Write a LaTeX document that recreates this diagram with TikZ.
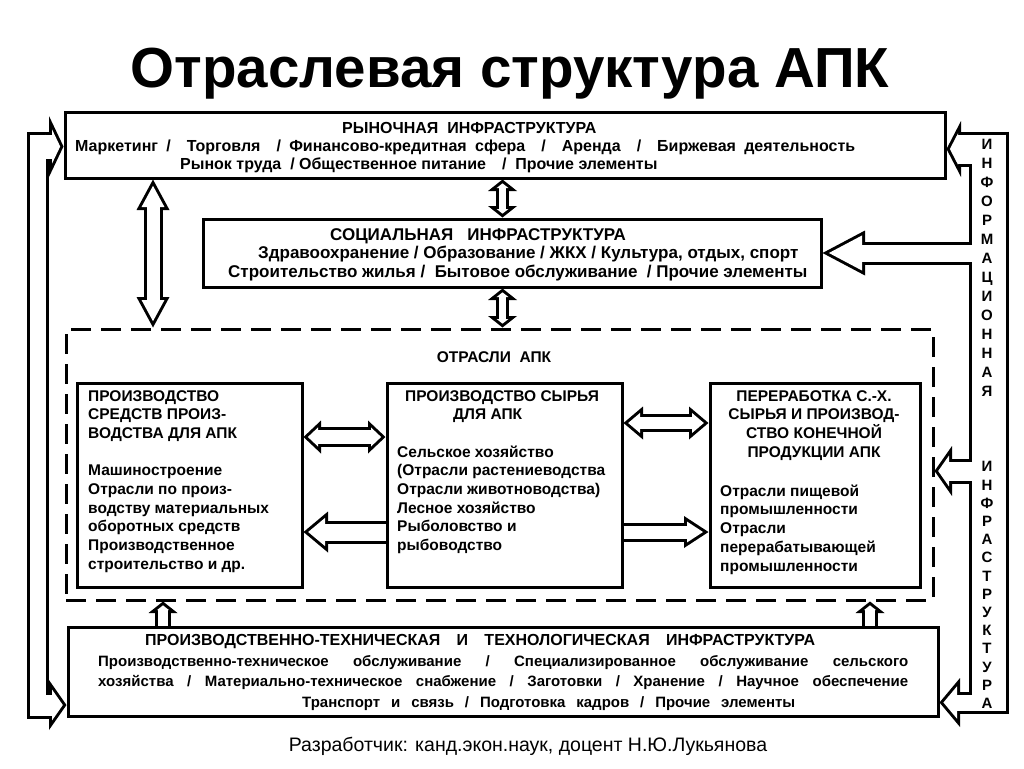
\documentclass[tikz,border=0pt]{standalone}
\usepackage{fontspec}
\setmainfont{Liberation Sans}
\usetikzlibrary{arrows.meta, positioning}
\pgfdeclarelayer{under}
\pgfsetlayers{under,main}

\tikzset{
  box/.style={draw, line width=3pt, inner sep=0pt},
  apkbox/.style={draw, line width=3pt, dash pattern=on 20pt off 10pt, inner sep=0pt},
  txt/.style={inner sep=0pt, align=left, anchor=north west, font=\bfseries\fontsize{15.5}{18.7}\selectfont},
  vtxt/.style={inner sep=0pt, align=center, font=\bfseries\fontsize{15}{19}\selectfont},
  % outline of a hollow arrow: shaft, head length, head width
  hout/.code n args={3}{%
    \pgfmathsetmacro\hw{#1+3}%
    \pgfmathsetmacro\hl{#2+1.5}%
    \pgfmathsetmacro\hh{#3+3}%
    \pgfkeysalso{/tikz/line width=\hw pt, /tikz/>={Triangle[length=\hl pt, width=\hh pt, line width=0pt]}}},
  hin/.code n args={3}{%
    \pgfmathsetmacro\hw{#1-3}%
    \pgfmathsetmacro\hl{#2+1.5}%
    \pgfmathsetmacro\hh{#3+3}%
    \pgfmathsetmacro\hs{3*sqrt((\hh/2)^2+\hl^2)/(\hh/2)}%
    \pgfmathsetmacro\il{\hl-3-\hs}%
    \pgfmathsetmacro\ih{\hh*\il/\hl}%
    \pgfkeysalso{/tikz/color=white, /tikz/line width=\hw pt, /tikz/shorten >=\hs pt,
      /tikz/>={Triangle[length=\il pt, width=\ih pt, line width=0pt]}}}
}

\newcommand{\hone}[4]{%
  \begin{pgfonlayer}{under}\draw[hout={#1}{#2}{#3}, ->] #4;\end{pgfonlayer}
  \draw[hin={#1}{#2}{#3}, ->] #4;}
\newcommand{\htwo}[4]{%
  \begin{pgfonlayer}{under}\draw[hout={#1}{#2}{#3}, <->] #4;\end{pgfonlayer}
  \draw[hin={#1}{#2}{#3}, <->, shorten <=\hs pt] #4;}
\newcommand{\hband}[2]{%
  \begin{pgfonlayer}{under}\draw[line width=#1pt+3pt] #2;\end{pgfonlayer}
  \draw[white, line width=#1pt-3pt, shorten <=3pt, shorten >=3pt] #2;}

\begin{document}
\begin{tikzpicture}[x=1pt, y=-1pt]
\useasboundingbox (0,0) rectangle (1024,768);

\node[anchor=base, font=\bfseries\fontsize{56.5}{68}\selectfont] (title) at (510,87) {Отраслевая структура АПК};

\node[box, minimum width=880pt, minimum height=66pt] (mkt) at (505,145) {};
\node[box, minimum width=618pt, minimum height=68pt] (soc) at (512,253) {};
\node[apkbox, minimum width=867pt, minimum height=271pt] (apk) at (499.5,464.5) {};
\node[box, minimum width=225pt, minimum height=204pt] (means) at (189.5,485) {};
\node[box, minimum width=235pt, minimum height=204pt] (raw) at (504.5,485) {};
\node[box, minimum width=210pt, minimum height=204pt] (proc) at (815,485) {};
\node[box, minimum width=870pt, minimum height=89pt] (tech) at (503,671.5) {};

\node[txt, font=\bfseries\fontsize{16}{18}\selectfont] (mkttxt) at (75,122) {\hspace*{267pt}РЫНОЧНАЯ\ \ ИНФРАСТРУКТУРА\\
  \makebox[780pt][s]{Маркетинг /\quad Торговля\quad / Финансово-кредитная сфера\quad /\quad Аренда\quad /\quad Биржевая деятельность}\\
  \hspace*{105pt}Рынок труда\ \ / Общественное питание\quad /\ \ Прочие элементы};
\node[txt, font=\bfseries\fontsize{17}{18.5}\selectfont] (soctxt) at (228,228) {\hspace*{102pt}СОЦИАЛЬНАЯ\ \ \ ИНФРАСТРУКТУРА\\
  \hspace*{30pt}Здравоохранение / Образование / ЖКХ / Культура, отдых, спорт\\
  Строительство жилья /\ \ Бытовое обслуживание\ \ / Прочие элементы};
\node[txt, anchor=center] (apktxt) at (494,357) {ОТРАСЛИ\ \ АПК};
\node[txt] (meanstxt) at (88,390) {ПРОИЗВОДСТВО\\СРЕДСТВ ПРОИЗ-\\ВОДСТВА ДЛЯ АПК\\ \mbox{}\\
  Машиностроение\\Отрасли по произ-\\водству материальных\\оборотных средств\\Производственное\\строительство и др.};
\node[txt] (rawtxt) at (397,390) {\hspace*{8pt}ПРОИЗВОДСТВО СЫРЬЯ\\\hspace*{56pt}ДЛЯ АПК\\ \mbox{}\\
  Сельское хозяйство\\(Отрасли растениеводства\\Отрасли животноводства)\\Лесное хозяйство\\Рыболовство и\\рыбоводство};
\node[txt, anchor=north, align=center] (proctitle) at (814,390) {ПЕРЕРАБОТКА С.-Х.\\СЫРЬЯ И ПРОИЗВОД-\\СТВО КОНЕЧНОЙ\\ПРОДУКЦИИ АПК};
\node[txt] (proctxt) at (720,484.5) {Отрасли пищевой\\промышленности\\Отрасли\\перерабатывающей\\промышленности};
\node[txt, font=\bfseries\fontsize{15}{20.8}\selectfont] (techtxt) at (98,634) {\hspace*{47pt}{\fontsize{16}{20.8}\selectfont\makebox[670pt][s]{ПРОИЗВОДСТВЕННО-ТЕХНИЧЕСКАЯ\ \ И\ \ ТЕХНОЛОГИЧЕСКАЯ\ \ ИНФРАСТРУКТУРА}}\\
  \makebox[810pt][s]{Производственно-техническое обслуживание / Специализированное обслуживание сельского}\\
  \makebox[810pt][s]{хозяйства / Материально-техническое снабжение / Заготовки / Хранение / Научное обеспечение}\\
  \hspace*{204pt}\makebox[493pt][s]{Транспорт и связь / Подготовка кадров / Прочие элементы}};

\node[anchor=base, font=\fontsize{19.5}{22}\selectfont] (author) at (528,751) {Разработчик: канд.экон.наук, доцент Н.Ю.Лукьянова};

\coordinate (lt) at (37.5,131.5);
\coordinate (lb) at (37.5,718.5);
\coordinate (rt) at (988.5,131.5);
\coordinate (rb) at (988.5,713.5);

\hband{19}{(lt) -- (lb)}
\hband{37}{(rt) -- (rb)}
\hone{27}{13}{58}{([yshift=-1.5pt]mkt.west -| lt) -- ([yshift=-1.5pt]mkt.west)}
\hone{24}{16}{47}{([yshift=-33.5pt]tech.west -| lb) -- ([yshift=-33.5pt]tech.west)}
\hone{32}{13}{53}{([yshift=-4pt]mkt.east -| rt) -- ([yshift=-4pt]mkt.east)}
\hone{20}{41}{42}{(soc.east -| rt) -- (soc.east)}
\hone{22}{16}{47}{([yshift=-6.5pt]apk.east -| rt) -- ([yshift=-6.5pt]apk.east)}
\hone{19}{19}{46}{([yshift=-31pt]tech.east -| rb) -- ([yshift=-31pt]tech.east)}

\htwo{10}{10}{26}{([xshift=-9.5pt]soc.north |- mkt.south) -- ([xshift=-9.5pt]soc.north)}
\htwo{10}{10}{26}{([xshift=-9.5pt]soc.south) -- ([xshift=-9.5pt]soc.south |- apk.north)}
\htwo{16}{29}{30}{([xshift=89.5pt]mkt.south west) -- ([xshift=89.5pt]mkt.south west |- apk.north)}
\htwo{17}{16}{30}{([yshift=48pt]means.east) -- ([yshift=48pt]means.east -| raw.west)}
\hone{20}{23}{38}{([yshift=-47pt]raw.west) -- ([yshift=-47pt]raw.west -| means.east)}
\htwo{15}{18}{30}{([yshift=62pt]raw.east) -- ([yshift=62pt]raw.east -| proc.west)}
\hone{16}{23}{29}{([yshift=-47pt]raw.east) -- ([yshift=-47pt]raw.east -| proc.west)}
\hone{13}{10}{26}{([xshift=-340pt]tech.north) -- ([xshift=-340pt]tech.north |- apk.south)}
\hone{13}{10}{26}{([xshift=367pt]tech.north) -- ([xshift=367pt]tech.north |- apk.south)}

\node[vtxt] (info1) at (987,268) {И\\Н\\Ф\\О\\Р\\М\\А\\Ц\\И\\О\\Н\\Н\\А\\Я};
\node[vtxt, font=\bfseries\fontsize{15}{18.2}\selectfont] (info2) at (987,585) {И\\Н\\Ф\\Р\\А\\С\\Т\\Р\\У\\К\\Т\\У\\Р\\А};
\end{tikzpicture}
\end{document}
